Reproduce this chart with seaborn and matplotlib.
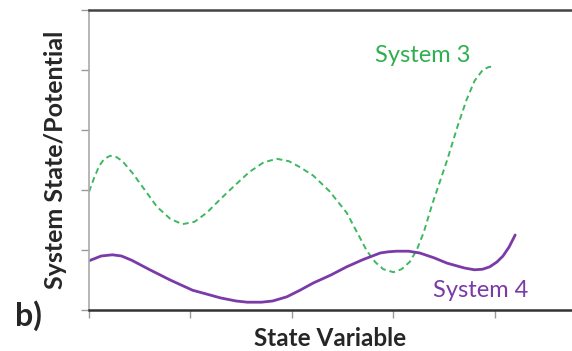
import pandas as pd
import seaborn as sns
import matplotlib.pyplot as plt

# values
sys3_x = [0.0, 0.05, 0.1, 0.15, 0.21, 0.27, 0.33, 0.43, 0.55, 0.67, 0.8, 0.92, 1.04,
          1.16, 1.29, 1.42, 1.58, 1.72, 1.85, 1.97, 2.08, 2.21, 2.37, 2.54, 2.64,
          2.74, 2.82, 2.9, 3.0, 3.08, 3.16, 3.23, 3.3, 3.38, 3.46, 3.53, 3.63, 3.72,
          3.8, 3.88, 3.94, 4.0]
sys3_y = [1.97, 2.2, 2.4, 2.52, 2.57, 2.55, 2.48, 2.28, 2.0, 1.72, 1.52, 1.43, 1.47,
          1.62, 1.84, 2.05, 2.3, 2.46, 2.52, 2.48, 2.38, 2.24, 1.98, 1.62, 1.3,
          0.98, 0.8, 0.68, 0.63, 0.68, 0.8, 1.0, 1.3, 1.75, 2.15, 2.5, 3.05, 3.5,
          3.82, 4.0, 4.05, 4.06]
sys4_x = [0.0, 0.12, 0.23, 0.32, 0.42, 0.6, 0.8, 1.02, 1.3, 1.45, 1.56, 1.7, 1.81,
          1.95, 2.08, 2.21, 2.38, 2.54, 2.7, 2.87, 2.95, 3.03, 3.15, 3.26, 3.4, 3.53,
          3.7, 3.8, 3.88, 3.95, 4.02, 4.08, 4.14, 4.2]
sys4_y = [0.82, 0.9, 0.92, 0.9, 0.83, 0.67, 0.5, 0.33, 0.2, 0.15, 0.13, 0.13, 0.15,
          0.22, 0.33, 0.45, 0.58, 0.72, 0.84, 0.95, 0.97, 0.98, 0.98, 0.95, 0.87, 0.78,
          0.7, 0.67, 0.68, 0.72, 0.8, 0.9, 1.05, 1.25]

x_ticks = [0, 1, 2, 3, 4]
y_ticks = [0, 1, 2, 3, 4, 5]

sns.set_style("white")
plt.rcParams['font.family'] = ['Lato', 'DejaVu Sans']

fig = plt.figure(figsize=(5.72, 3.51), dpi=100)
ax = fig.add_axes([89 / 572, 41 / 351, 483 / 572, 300 / 351])

df3 = pd.DataFrame({'x': sys3_x, 'y': sys3_y})
df4 = pd.DataFrame({'x': sys4_x, 'y': sys4_y})
sns.lineplot(data=df3, x='x', y='y', ax=ax, color='#3db860', lw=1.4,
             linestyle=(0, (3, 2)), sort=False)
sns.lineplot(data=df4, x='x', y='y', ax=ax, color='#7a3aa8', lw=2.0, sort=False)

ax.set_xlim(0, 4.76)
ax.set_ylim(0, 5)
ax.set_xticks(x_ticks)
ax.set_yticks(y_ticks)
ax.set_xticklabels([])
ax.set_yticklabels([])
ax.tick_params(axis='both', direction='out', length=6, width=1, colors='#999999',
               bottom=True, left=True)
ax.spines['left'].set_color('#aaaaaa')
ax.spines['left'].set_linewidth(1.2)
ax.spines['bottom'].set_color('#333333')
ax.spines['bottom'].set_linewidth(1.8)
ax.spines['top'].set_color('#444444')
ax.spines['top'].set_linewidth(1.8)
ax.spines['right'].set_visible(False)

ax.set_xlabel('State Variable', fontsize=17.5, fontweight='bold', labelpad=3)
ax.set_ylabel('System State/Potential', fontsize=18, fontweight='bold', labelpad=6)

ax.text(3.29, 4.25, 'System 3', color='#2fb050', fontsize=17, ha='center', va='center')
ax.text(3.86, 0.33, 'System 4', color='#7a3aa8', fontsize=17, ha='center', va='center')
fig.text(28 / 572, 1 - 316 / 351, 'b)', fontsize=23, fontweight='bold',
         ha='center', va='center')

fig.savefig('out.png', dpi=100)
